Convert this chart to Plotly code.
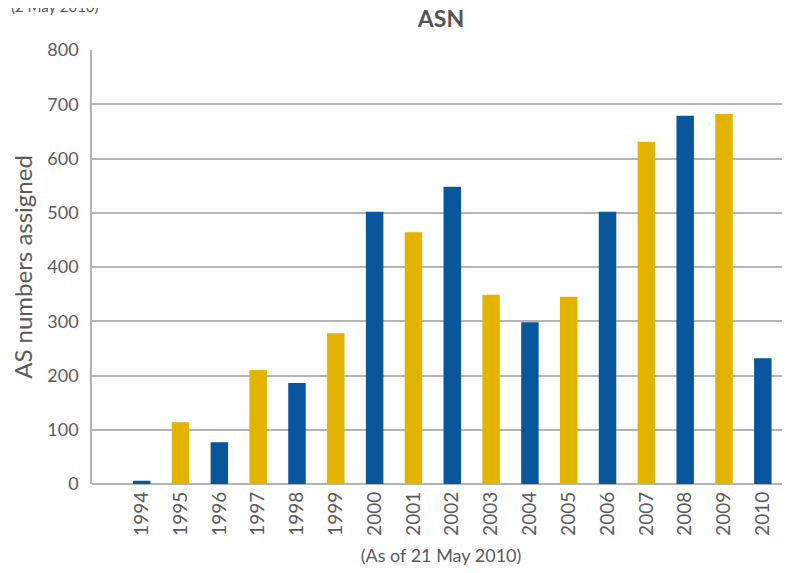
import plotly.graph_objects as go

years = ["1994", "1995", "1996", "1997", "1998", "1999", "2000", "2001", "2002",
         "2003", "2004", "2005", "2006", "2007", "2008", "2009", "2010"]
asn_counts = [6, 114, 77, 210, 186, 278, 502, 464, 548, 349, 298, 345, 502, 631, 679, 682, 232]
blue = "#08579d"
gold = "#e2b400"
bar_colors = [blue if i % 2 == 0 else gold for i in range(len(years))]
y_ticks = [0, 100, 200, 300, 400, 500, 600, 700, 800]

font_family = "Lato, 'Open Sans', sans-serif"
grey_text = "#5a5a5a"

# page body has an 8px margin, so figure is drawn 8px right/down
W, H = 782, 565
ML, MT = 84, 42
PLOT_H = 434
MB = H - MT - PLOT_H

fig = go.Figure(
    go.Bar(
        x=list(range(len(years))),
        y=asn_counts,
        marker=dict(color=bar_colors, line=dict(width=0)),
        width=0.45,
    )
)

fig.update_layout(
    width=W,
    height=H,
    margin=dict(l=ML, r=0, t=MT, b=MB, autoexpand=False),
    paper_bgcolor="white",
    plot_bgcolor="white",
    showlegend=False,
    font=dict(family=font_family, color=grey_text),
    title=dict(
        text="<b>ASN</b>",
        xref="paper",
        x=0.5,
        xanchor="center",
        yref="container",
        y=1 - 11 / H,
        yanchor="middle",
        font=dict(size=23, color="#555555", family=font_family),
    ),
    xaxis=dict(
        tickmode="array",
        tickvals=list(range(len(years))),
        ticktext=years,
        range=[-1.28, 16.7],
        tickangle=-90,
        tickfont=dict(size=19, color=grey_text),
        showgrid=False,
        showline=False,
        zeroline=False,
        ticks="",
        ticklabelstandoff=3,
        automargin=False,
        title=dict(text="(As of 21 May 2010)", font=dict(size=18, color=grey_text), standoff=14),
    ),
    yaxis=dict(
        range=[0, 800],
        tickvals=y_ticks,
        tickfont=dict(size=18, color=grey_text),
        showgrid=True,
        gridcolor="#b4b4b4",
        gridwidth=1.5,
        showline=True,
        linecolor="#b4b4b4",
        linewidth=1.5,
        zeroline=True,
        zerolinecolor="#b4b4b4",
        zerolinewidth=1.5,
        ticks="",
        ticklabelstandoff=8,
        automargin=False,
        title=dict(text="AS numbers assigned", font=dict(size=24, color=grey_text), standoff=10),
    ),
)

fig.add_annotation(
    text="(2 May 2010)",
    xref="paper", yref="paper",
    x=-(ML - 1) / 698, y=1 + (MT + 2) / PLOT_H,
    xanchor="left", yanchor="middle",
    showarrow=False,
    font=dict(size=15, color=grey_text, family=font_family),
)

fig.write_html("out.html")
